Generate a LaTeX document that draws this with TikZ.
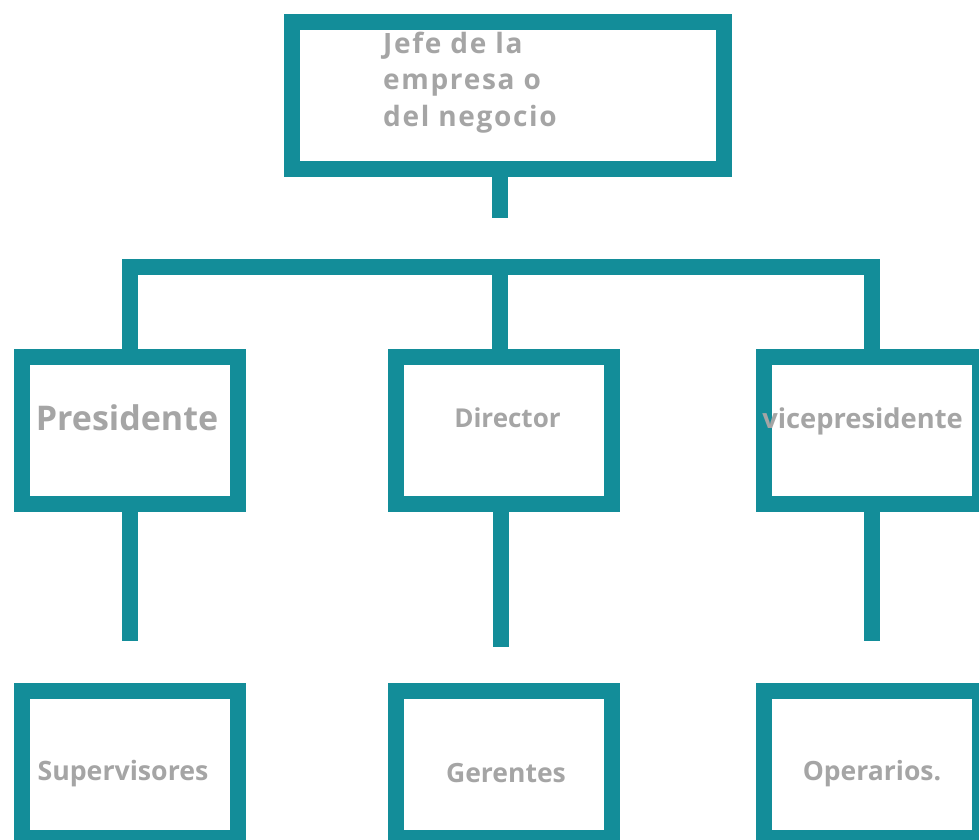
\documentclass[tikz,border=0pt]{standalone}
\usepackage{fontspec}
\setmainfont{Open Sans}
\newfontfamily\jefefont{Open Sans}[LetterSpace=6]
\usetikzlibrary{positioning}

\definecolor{orgteal}{RGB}{19,141,153}
\definecolor{labelgray}{RGB}{165,165,165}

\tikzset{
  cargo/.style={draw=orgteal, fill=white, line width=16pt, minimum width=216pt,
    minimum height=147pt, inner sep=0pt},
  rama/.style={draw=orgteal, line width=16pt, line join=miter},
  rotulo/.style={text=labelgray, inner sep=0pt, anchor=base},
}

\begin{document}
\begin{tikzpicture}[x=1pt, y=-1pt]
  \useasboundingbox (0,0) rectangle (979,839);
  % lines first
  \coordinate (jefe-pie) at (500,218);
  \coordinate (barra) at (500,267);
  \coordinate (pres-pie) at (129.5,641);
  \coordinate (dir-pie) at (500.5,647);
  \coordinate (vice-pie) at (872,641);

  \node[cargo, minimum width=432pt] (jefe) at (508,95) {};
  \node[cargo] (pres) at (129.5,430.5) {};
  \node[cargo] (dir) at (503.5,430.5) {};
  \node[cargo] (vice) at (872,430.5) {};
  \node[cargo] (sup) at (129.5,764.5) {};
  \node[cargo] (ger) at (503.5,764.5) {};
  \node[cargo] (ope) at (872,764.5) {};

  \draw[rama] ([xshift=-8pt]jefe.south) -- (jefe-pie);
  \draw[rama] (pres.north) |- (barra) -| (vice.north);
  \draw[rama] (barra) -- (barra |- dir.north);
  \draw[rama] (pres.south) -- (pres-pie);
  \draw[rama] (dir-pie |- dir.south) -- (dir-pie);
  \draw[rama] (vice.south) -- (vice-pie);

  % texts
  \node[rotulo, anchor=base west, align=left,
    font=\jefefont\bfseries\fontsize{28}{36.5}\selectfont]
    (jefe-txt) at ([xshift=99pt, yshift=-112.5pt]jefe.north west)
    {Jefe de la\\empresa o\\del negocio};
  \node[rotulo, font=\bfseries\fontsize{34}{40}\selectfont]
    (pres-txt) at ([xshift=-2.5pt]pres.center) {Presidente};
  \node[rotulo, font=\bfseries\fontsize{26}{30}\selectfont]
    (dir-txt) at ([xshift=4pt, yshift=3.5pt]dir.center) {Director};
  \node[rotulo, font=\bfseries\fontsize{27.3}{30}\selectfont]
    (vice-txt) at ([xshift=-9.5pt, yshift=2.5pt]vice.center) {vicepresidente};
  \node[rotulo, font=\bfseries\fontsize{26.7}{30}\selectfont]
    (sup-txt) at ([xshift=-6.5pt, yshift=-15.5pt]sup.center) {Supervisores};
  \node[rotulo, font=\bfseries\fontsize{26.5}{30}\selectfont]
    (ger-txt) at ([xshift=2.5pt, yshift=-17.5pt]ger.center) {Gerentes};
  \node[rotulo, font=\bfseries\fontsize{26.5}{30}\selectfont]
    (ope-txt) at ([yshift=-15.5pt]ope.center) {Operarios.};
\end{tikzpicture}
\end{document}
